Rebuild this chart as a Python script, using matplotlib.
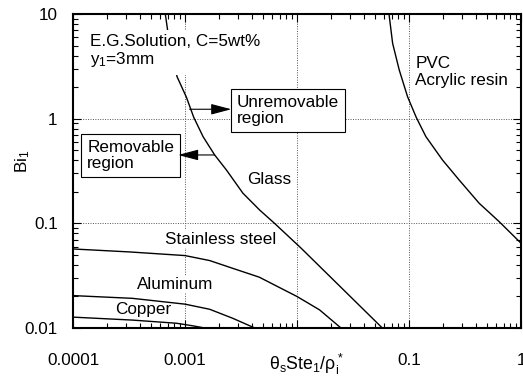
import matplotlib
matplotlib.use("Agg")
import matplotlib.pyplot as plt
from matplotlib.ticker import LogLocator, NullFormatter

plt.rcParams['font.family'] = ['Liberation Sans', 'DejaVu Sans']
plt.rcParams['mathtext.fontset'] = 'custom'
plt.rcParams['mathtext.rm'] = 'Liberation Sans'
plt.rcParams['mathtext.it'] = 'Liberation Sans:italic'
plt.rcParams['mathtext.bf'] = 'Liberation Sans:bold'

FS = 12.3

# critical Biot number vs. theta_s*Ste1/rho_i* for each wall material
glass_x = [6.67e-4, 7.06e-4, 8.49e-4, 1.03e-3, 1.197e-3, 1.45e-3, 1.84e-3, 2.34e-3,
           3.29e-3, 4.64e-3, 6.3e-3, 1.09e-2, 5.78e-2]
glass_y = [10, 6.54, 2.52, 1.60, 1.03, 0.673, 0.45, 0.324, 0.194, 0.134, 0.1, 0.0578, 0.01]

stainless_x = [1e-4, 3.2e-4, 1e-3, 1.66e-3, 2.66e-3, 4.6e-3, 1e-2, 1.59e-2, 2.47e-2]
stainless_y = [0.0569, 0.0533, 0.0492, 0.0441, 0.0372, 0.0306, 0.020, 0.0149, 0.01]

aluminum_x = [1e-4, 3.4e-4, 1e-3, 1.66e-3, 2.66e-3, 4.2e-3]
aluminum_y = [0.0204, 0.0192, 0.0169, 0.0151, 0.0124, 0.01]

copper_x = [1e-4, 3.4e-4, 8.4e-4, 1.17e-3, 1.5e-3]
copper_y = [0.0127, 0.0119, 0.0111, 0.0105, 0.01]

pvc_x = [0.0663, 0.0714, 0.0818, 0.0971, 0.116, 0.1416, 0.199, 0.280, 0.423, 0.637, 1.0]
pvc_y = [10, 5.25, 2.92, 1.62, 1.03, 0.673, 0.403, 0.26, 0.1556, 0.104, 0.0646]

xticks = [1e-4, 1e-3, 1e-2, 1e-1, 1]
xticklabels = ['0.0001', '0.001', '', '0.1', '1']
yticks = [0.01, 0.1, 1, 10]
yticklabels = ['0.01', '0.1', '1', '10']

fig = plt.figure(figsize=(5.23, 3.78), dpi=100)
ax = fig.add_axes([73 / 523, 50 / 378, 448 / 523, 314 / 378])
ax.set_xscale('log')
ax.set_yscale('log')
ax.set_xlim(1e-4, 1)
ax.set_ylim(0.01, 10)

for x, y in [(glass_x, glass_y), (stainless_x, stainless_y), (aluminum_x, aluminum_y),
             (copper_x, copper_y), (pvc_x, pvc_y)]:
    ax.plot(x, y, color='black', lw=1.0, zorder=3)

for gx in [1e-3, 1e-2, 1e-1]:
    ax.axvline(gx, color='#555555', ls=(0, (1, 1.5)), lw=0.7, zorder=1)
for gy in [0.1, 1]:
    ax.axhline(gy, color='#555555', ls=(0, (1, 1.5)), lw=0.7, zorder=1)

ax.set_xticks(xticks)
ax.set_xticklabels(xticklabels)
ax.set_yticks(yticks)
ax.set_yticklabels(yticklabels)
ax.xaxis.set_minor_locator(LogLocator(base=10, subs=range(2, 10)))
ax.yaxis.set_minor_locator(LogLocator(base=10, subs=range(2, 10)))
ax.xaxis.set_minor_formatter(NullFormatter())
ax.yaxis.set_minor_formatter(NullFormatter())
ax.tick_params(which='both', direction='in', top=True, right=True, labelsize=FS)
ax.tick_params(which='major', length=6, width=0.8)
ax.tick_params(which='minor', length=3.5, width=0.8)
ax.tick_params(axis='x', pad=18)
ax.tick_params(axis='y', pad=11)
for s in ax.spines.values():
    s.set_linewidth(1.5)

ax.set_xlabel(r'$\mathrm{\theta_s}$Ste$_\mathrm{1}$/$\mathrm{\rho_i^*}$', fontsize=12.8)
ax.xaxis.set_label_coords(0.52, -0.075)
ax.set_ylabel(r'Bi$_\mathrm{1}$', fontsize=FS)
ax.yaxis.set_label_coords(-0.092, 0.53)

ax.text(1.43e-4, 6.44, 'E.G.Solution, C=5wt%\ny$_\mathrm{1}$=3mm', fontsize=FS,
        ha='left', va='top', linespacing=1.05, zorder=4,
        bbox=dict(boxstyle='square,pad=0.35', fc='white', ec='none'))

box = dict(boxstyle='square,pad=0.35', fc='white', ec='black', lw=0.8)
ax.text(2.91e-3, 1.70, 'Unremovable\nregion', fontsize=FS, ha='left', va='top',
        linespacing=1.12, bbox=box, zorder=4)
ax.text(1.34e-4, 0.626, 'Removable\nregion', fontsize=FS, ha='left', va='top',
        linespacing=1.12, bbox=box, zorder=4)

arrow = dict(arrowstyle='-|>,head_length=1.25,head_width=0.33', color='black',
             lw=0.8, mutation_scale=10, shrinkA=0, shrinkB=0)
ax.annotate('', xy=(2.59e-3, 1.23), xytext=(1.10e-3, 1.23), arrowprops=arrow, zorder=5)
ax.annotate('', xy=(8.67e-4, 0.45), xytext=(1.84e-3, 0.45), arrowprops=arrow, zorder=5)

label_bg = dict(boxstyle='square,pad=0.1', fc='white', ec='none')
ax.text(3.62e-3, 0.26, 'Glass', fontsize=FS, ha='left', va='center')
ax.text(6.6e-4, 0.0705, 'Stainless steel', fontsize=FS, ha='left', va='center',
        bbox=label_bg, zorder=2)
ax.text(3.69e-4, 0.0262, 'Aluminum', fontsize=FS, ha='left', va='center',
        bbox=label_bg, zorder=2)
ax.text(2.37e-4, 0.01512, 'Copper', fontsize=FS, ha='left', va='center')
ax.text(0.1137, 2.79, 'PVC\nAcrylic resin', fontsize=FS, ha='left', va='center',
        linespacing=1.2)

fig.savefig('out.png', dpi=100)
